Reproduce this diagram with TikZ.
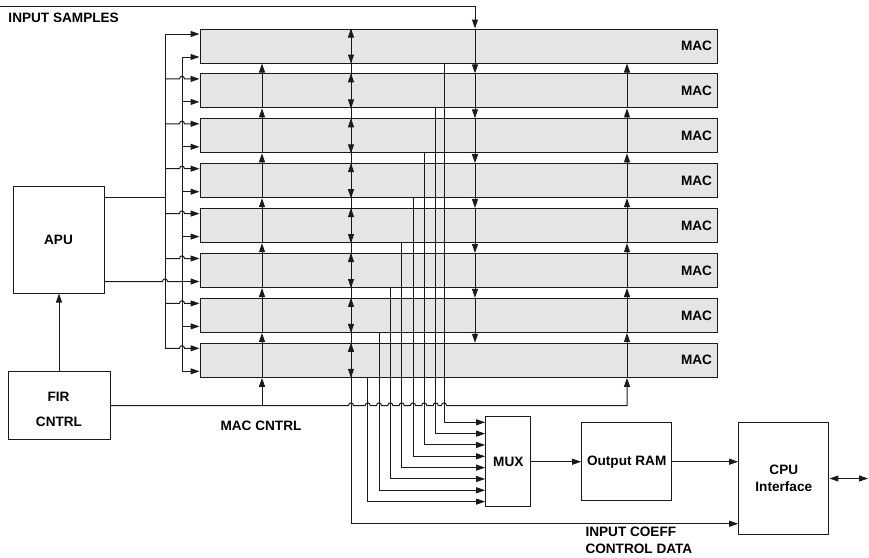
\documentclass[tikz,border=0pt]{standalone}
\usepackage{fontspec}
\setmainfont{Liberation Sans}
\usetikzlibrary{arrows.meta,calc}
\definecolor{macgray}{HTML}{E5E5E5}
\definecolor{linec}{HTML}{1A1A1A}
\begin{document}
\begin{tikzpicture}[x=1pt,y=-1pt, line width=1pt, draw=linec,
  every node/.style={font=\fontsize{13.6}{17}\selectfont\bfseries},
  tip/.style={-{Triangle[length=9pt,width=6pt]}},
  dtip/.style={{Triangle[length=9pt,width=6pt]}-{Triangle[length=9pt,width=6pt]}},
  macbox/.style={draw=linec, fill=macgray, minimum width=517pt, minimum height=34pt, inner sep=0pt},
  blk/.style={draw=linec, fill=white, inner sep=0pt, align=center},
  lbl/.style={inner sep=0pt, align=center}]
\useasboundingbox (0,0) rectangle (869,557);

% MAC boxes
\foreach \i in {1,...,8}{
  \pgfmathsetmacro{\mt}{29+44.9*(\i-1)}
  \node[macbox] (m\i) at (458.5,\mt+17) {};
  \node[lbl, anchor=east] (ml\i) at ([xshift=-5pt]m\i.east) {MAC};
}

% other blocks
\node[blk, minimum width=91pt, minimum height=107pt] (apu) at (58.5,239.5) {APU};
\node[blk, minimum width=102pt, minimum height=67.6pt] (fir) at (59,405.5) {};
\node[lbl] (firt) at (58.5,397.2) {FIR};
\node[lbl] (firc) at (59,422.3) {CNTRL};
\node[blk, minimum width=45.3pt, minimum height=90pt] (mux) at (508.3,461.7) {MUX};
\node[blk, minimum width=90pt, minimum height=78pt] (ram) at (626.7,461.7) {Output RAM};
\node[blk, minimum width=90.3pt, minimum height=111.6pt] (cpu) at (783.8,478.5) {CPU\\Interface};

% labels
\node[lbl, anchor=west] (insamp) at (8,17.7) {INPUT SAMPLES};
\node[lbl] (maccntrl) at (261,425.5) {MAC CNTRL};
\node[lbl, anchor=west] (coeff1) at (585,531.7) {INPUT COEFF};
\node[lbl, anchor=west] (coeff2) at (585,549) {CONTROL DATA};

% left buses
\draw[tip] (165,348.3) -- (165,34) -- (m1.west |- 0,34);
\draw[tip] (182,371.3) -- (182,57) -- (m1.west |- 0,57);
\foreach \i in {2,...,8}{
  \pgfmathsetmacro{\yu}{29+44.9*(\i-1)+5}
  \pgfmathsetmacro{\yl}{29+44.9*(\i-1)+28}
  \draw[tip] (165,\yu) -- (179.5,\yu) .. controls (179.5,\yu-3.5) and (184.5,\yu-3.5) .. (184.5,\yu) -- (m\i.west |- 0,\yu);
  \draw[tip] (182,\yl) -- (m\i.west |- 0,\yl);
}

% APU connections
\draw (apu.east |- 0,197.7) -- (165,197.7);
\draw (apu.east |- 0,281.5) -- (162.5,281.5) .. controls (162.5,278) and (167.5,278) .. (167.5,281.5) -- (182,281.5);
\draw[tip] (fir.north) -- (fir.north |- apu.south);

% input samples bus
\draw[tip] (0,6) -- (475,6) -- (475,0 |- m1.north);
\foreach \i [evaluate=\i as \n using int(\i+1)] in {1,...,7}{
  \draw[tip] (475,0 |- m\i.north) -- (475,0 |- m\n.north);
}

% coefficient bus
\draw[tip] (351,0 |- m1.north) -- (351,523.7) -- (cpu.west |- 0,523.7);
\foreach \i in {1,...,8}{
  \draw[dtip] (351,0 |- m\i.north) -- (351,0 |- m\i.south);
}

% MAC control
\draw[tip] (fir.east)
  \foreach \h in {351,367.7,379,390.3,401.7,413,424.3,435.7,444}{
    -- ({\h-2.5},405.5) .. controls ({\h-2.5},402) and ({\h+2.5},402) .. ({\h+2.5},405.5)
  } -- (627,405.5) -- (627,0 |- m8.south);
\draw[tip] (262,405.5) -- (262,0 |- m8.south);
\foreach \i [evaluate=\i as \n using int(\i+1)] in {1,...,7}{
  \draw[tip] (262,0 |- m\n.south) -- (262,0 |- m\i.south);
  \draw[tip] (627,0 |- m\n.south) -- (627,0 |- m\i.south);
}

% MAC outputs to MUX
\foreach \xx [count=\j] in {444,435.7,424.3,413,401.7,390.3,379,367.7}{
  \pgfmathsetmacro{\yy}{422.3+11.33*(\j-1)}
  \draw[tip] (\xx,0 |- m\j.south) -- (\xx,\yy) -- (mux.west |- 0,\yy);
}

% output path
\draw[tip] (mux.east) -- (ram.west);
\draw[tip] (ram.east) -- (cpu.west |- ram.east);
\coordinate (ext) at (868,478.5);
\draw[dtip] (cpu.east) -- (ext);
\end{tikzpicture}
\end{document}
